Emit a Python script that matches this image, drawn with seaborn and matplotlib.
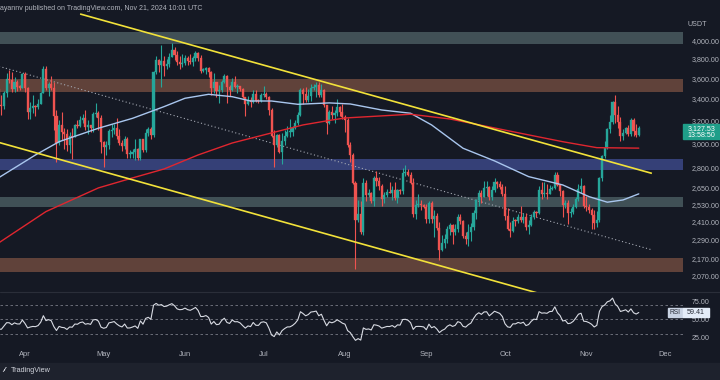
import numpy as np
import pandas as pd
import matplotlib
matplotlib.use("Agg")
import matplotlib.pyplot as plt
import matplotlib.dates as mdates
from matplotlib.ticker import NullLocator
from matplotlib.patches import Rectangle
from matplotlib.lines import Line2D
import seaborn as sns

# ---------------- data (ETH/USDT daily) ----------------
start_date = "2024-03-22"
# closes before the first visible candle (used as RSI warm-up and first open)
warmup_close = [3870, 3892, 3908, 3880, 4066, 3982, 4004, 3883, 3736, 3522,
                3645, 3518, 3159, 3516, 3491]

close_mar = [3336, 3331, 3454, 3590, 3585, 3490, 3560, 3510, 3508, 3648]
high_mar = [3540, 3440, 3470, 3650, 3680, 3665, 3610, 3580, 3530, 3650]
low_mar = [3250, 3250, 3300, 3420, 3550, 3460, 3460, 3470, 3480, 3500]

close_apr = [3503, 3279, 3311, 3330, 3319, 3352, 3454, 3696, 3505, 3545,
             3504, 3237, 3007, 3157, 3100, 3083, 2985, 3066, 3055, 3157,
             3148, 3201, 3219, 3139, 3155, 3130, 3253, 3263, 3217, 3014]
high_apr = [3660, 3510, 3370, 3440, 3345, 3400, 3460, 3730, 3725, 3560,
            3620, 3560, 3290, 3200, 3280, 3130, 3125, 3100, 3130, 3170,
            3200, 3240, 3260, 3295, 3200, 3160, 3280, 3355, 3285, 3250]
low_apr = [3460, 3210, 3210, 3270, 3240, 3300, 3350, 3450, 3480, 3430,
           3480, 3110, 2850, 2990, 3030, 2950, 2940, 2920, 2870, 3050,
           3130, 3140, 3180, 3110, 3080, 3100, 3100, 3230, 3110, 2920]

close_may = [2970, 2988, 3103, 3118, 3136, 3064, 3007, 2974, 3036, 2910,
             2912, 2930, 2950, 2882, 3037, 2945, 3092, 3123, 3071, 3660,
             3790, 3738, 3780, 3728, 3750, 3826, 3892, 3844, 3768, 3748, 3760]
high_may = [3020, 3020, 3125, 3170, 3170, 3220, 3125, 3030, 3060, 3050,
            2945, 2955, 3040, 2960, 3040, 3040, 3120, 3145, 3140, 3670,
            3830, 3800, 3950, 3830, 3800, 3860, 3975, 3930, 3890, 3830, 3850]
low_may = [2810, 2900, 2950, 3050, 3080, 3040, 2990, 2940, 2950, 2880,
           2880, 2880, 2860, 2860, 2860, 2930, 2930, 3060, 3040, 3050,
           3640, 3660, 3510, 3620, 3700, 3720, 3820, 3790, 3740, 3700, 3720]

close_jun = [3813, 3780, 3767, 3811, 3866, 3810, 3679, 3681, 3705, 3665,
             3500, 3560, 3470, 3480, 3565, 3620, 3510, 3483, 3563, 3517,
             3520, 3490, 3420, 3350, 3390, 3372, 3449, 3380, 3376, 3432]
high_jun = [3840, 3830, 3850, 3830, 3885, 3880, 3840, 3710, 3720, 3720,
            3670, 3650, 3560, 3530, 3580, 3640, 3630, 3530, 3600, 3625,
            3540, 3520, 3500, 3420, 3430, 3420, 3480, 3480, 3400, 3450]
low_jun = [3740, 3740, 3750, 3730, 3780, 3780, 3650, 3660, 3640, 3610,
           3440, 3450, 3420, 3360, 3460, 3550, 3360, 3430, 3470, 3500,
           3450, 3470, 3410, 3240, 3340, 3320, 3360, 3370, 3360, 3365]

close_jul = [3441, 3420, 3295, 3059, 2982, 3067, 2930, 3019, 3065, 3100,
             3101, 3130, 3176, 3249, 3486, 3443, 3389, 3426, 3505, 3517,
             3535, 3440, 3481, 3337, 3174, 3275, 3245, 3270, 3319, 3280, 3230]
high_jul = [3520, 3460, 3430, 3310, 3110, 3080, 3080, 3090, 3110, 3150,
            3210, 3150, 3200, 3280, 3500, 3500, 3515, 3490, 3540, 3540,
            3560, 3560, 3540, 3490, 3340, 3290, 3330, 3290, 3400, 3330, 3350]
low_jul = [3420, 3400, 3250, 3050, 2810, 2970, 2920, 2830, 2990, 3050,
           3050, 3060, 3120, 3160, 3240, 3350, 3370, 3370, 3380, 3480,
           3420, 3420, 3420, 3320, 3080, 3170, 3210, 3180, 3240, 3240, 3210]

close_aug = [3203, 2988, 2906, 2688, 2420, 2460, 2340, 2682, 2597, 2611,
             2556, 2722, 2703, 2664, 2569, 2593, 2616, 2612, 2636, 2575,
             2631, 2624, 2762, 2768, 2745, 2681, 2460, 2527, 2530, 2526, 2513]
high_aug = [3245, 3220, 3010, 2920, 2700, 2560, 2550, 2720, 2710, 2640,
            2620, 2740, 2780, 2730, 2680, 2620, 2640, 2690, 2660, 2690,
            2640, 2640, 2800, 2820, 2790, 2770, 2720, 2560, 2600, 2560, 2530]
low_aug = [3100, 2970, 2850, 2680, 2110, 2410, 2330, 2320, 2550, 2580,
           2540, 2520, 2660, 2630, 2520, 2540, 2580, 2610, 2560, 2560,
           2540, 2600, 2600, 2740, 2740, 2680, 2440, 2430, 2510, 2490, 2500]

close_sep = [2425, 2538, 2424, 2450, 2368, 2227, 2271, 2297, 2358, 2388,
             2341, 2361, 2438, 2416, 2316, 2293, 2339, 2370, 2465, 2560,
             2613, 2582, 2646, 2652, 2578, 2632, 2695, 2676, 2658, 2603]
high_sep = [2530, 2555, 2550, 2490, 2470, 2410, 2320, 2330, 2380, 2400,
            2390, 2390, 2460, 2460, 2420, 2340, 2390, 2400, 2490, 2570,
            2630, 2630, 2700, 2700, 2660, 2660, 2720, 2700, 2700, 2680]
low_sep = [2400, 2400, 2400, 2310, 2350, 2165, 2220, 2240, 2270, 2320,
           2260, 2320, 2340, 2390, 2300, 2260, 2250, 2280, 2350, 2430,
           2520, 2540, 2580, 2590, 2560, 2560, 2620, 2650, 2640, 2590]

close_oct = [2448, 2363, 2349, 2415, 2414, 2440, 2422, 2440, 2370, 2386,
             2438, 2476, 2468, 2630, 2605, 2611, 2605, 2641, 2645, 2748,
             2667, 2622, 2524, 2535, 2470, 2478, 2507, 2565, 2639, 2659, 2518]
high_oct = [2660, 2500, 2410, 2440, 2430, 2460, 2520, 2470, 2470, 2420,
            2460, 2490, 2480, 2660, 2690, 2690, 2680, 2670, 2660, 2770,
            2770, 2680, 2630, 2560, 2560, 2500, 2530, 2580, 2680, 2720, 2670]
low_oct = [2420, 2350, 2310, 2340, 2380, 2400, 2410, 2400, 2350, 2330,
           2380, 2430, 2440, 2460, 2570, 2580, 2570, 2600, 2630, 2640,
           2660, 2590, 2440, 2500, 2390, 2440, 2460, 2500, 2550, 2610, 2500]

close_nov = [2512, 2490, 2457, 2399, 2423, 2722, 2895, 2963, 3127, 3183,
             3370, 3245, 3185, 3060, 3092, 3132, 3077, 3206, 3107, 3073, 3127.53]
high_nov = [2590, 2530, 2500, 2490, 2480, 2730, 2900, 3020, 3130, 3250,
            3380, 3440, 3330, 3230, 3120, 3140, 3160, 3220, 3220, 3170, 3150]
low_nov = [2480, 2470, 2360, 2360, 2370, 2410, 2700, 2880, 2950, 3090,
           3170, 3180, 3130, 3020, 3030, 3080, 3060, 3060, 3060, 3050, 3060]

# moving averages (red = 200, light blue = 100)
red_ma_dates = ["2024-03-22", "2024-04-09", "2024-04-29", "2024-05-12", "2024-05-24",
                "2024-06-06", "2024-06-19", "2024-07-04", "2024-07-16", "2024-07-26",
                "2024-08-01", "2024-08-26", "2024-09-10", "2024-09-27", "2024-10-10",
                "2024-10-23", "2024-11-05", "2024-11-21"]
red_ma_values = [2270, 2478, 2648, 2723, 2792, 2904, 3003, 3089, 3159, 3199,
                 3221, 3255, 3212, 3132, 3072, 3014, 2964, 2960]
blue_ma_dates = ["2024-03-22", "2024-04-05", "2024-04-14", "2024-04-29", "2024-05-12",
                 "2024-05-24", "2024-06-01", "2024-06-10", "2024-06-19", "2024-06-26",
                 "2024-07-04", "2024-07-14", "2024-07-26", "2024-08-03", "2024-08-15",
                 "2024-08-26", "2024-09-03", "2024-09-15", "2024-09-27", "2024-10-10",
                 "2024-10-23", "2024-11-02", "2024-11-09", "2024-11-15", "2024-11-21"]
blue_ma_values = [2725, 2904, 3014, 3130, 3218, 3325, 3404, 3442, 3419, 3378,
                  3378, 3347, 3360, 3350, 3294, 3264, 3159, 2959, 2856, 2733,
                  2670, 2584, 2544, 2560, 2604]

# trend lines (descending channel) and horizontal zones
upper_line_dates = ["2024-04-22", "2024-11-26"]
upper_line_prices = [4311, 2758]
lower_line_dates = ["2024-03-22", "2024-10-14"]
lower_line_prices = [3008, 1970]
mid_line_dates = ["2024-03-22", "2024-11-26"]
mid_line_prices = [3723, 2226]
zones = [(3960, 4100, "#4a5a5f"), (3462, 3593, "#6e4a3e"), (2785, 2870, "#3b4786"),
         (2513, 2584, "#485a5f"), (2094, 2174, "#6e4a3e")]

price_ticks = [4000, 3800, 3600, 3400, 3200, 3000, 2800, 2650, 2530, 2410, 2290, 2170, 2070]
rsi_ticks = [75, 50, 25]
month_labels = ["Apr", "May", "Jun", "Jul", "Aug", "Sep", "Oct", "Nov", "Dec"]
month_starts = ["2024-04-01", "2024-05-01", "2024-06-01", "2024-07-01", "2024-08-01",
                "2024-09-01", "2024-10-01", "2024-11-01", "2024-12-01"]
last_price_text = ["3,127.53", "13:58:50"]
rsi_last_value = 59.41
header_text = "ayannv published on TradingView.com, Nov 21, 2024 10:01 UTC"

# ---------------- assemble ----------------
closes = np.array(close_mar + close_apr + close_may + close_jun + close_jul +
                  close_aug + close_sep + close_oct + close_nov, dtype=float)
highs = np.array(high_mar + high_apr + high_may + high_jun + high_jul +
                 high_aug + high_sep + high_oct + high_nov, dtype=float)
lows = np.array(low_mar + low_apr + low_may + low_jun + low_jul +
                low_aug + low_sep + low_oct + low_nov, dtype=float)
opens = np.concatenate([[warmup_close[-1]], closes[:-1]])
dates = pd.date_range(start_date, periods=len(closes), freq="D")
xd = mdates.date2num(dates)

# RSI(14), Wilder smoothing
allc = np.array(warmup_close + list(closes), dtype=float)
delta = np.diff(allc)
gain = np.clip(delta, 0, None)
loss = np.clip(-delta, 0, None)
ag, al = gain[:14].mean(), loss[:14].mean()
rsi = []
for g, l in zip(gain[14:], loss[14:]):
    ag = (ag * 13 + g) / 14
    al = (al * 13 + l) / 14
    rsi.append(100 - 100 / (1 + ag / al))
rsi = np.array(rsi)

# ---------------- style ----------------
sns.set_style("dark")
plt.rcParams["font.family"] = ["Liberation Sans", "DejaVu Sans"]
BG = "#151924"
TXT = "#b2b5be"
GREEN = "#26a69a"
RED = "#ef5350"
W, H = 720, 380
PANE_R = 683
FS = 5.1

fig = plt.figure(figsize=(W / 100, H / 100), dpi=100)
fig.patch.set_facecolor(BG)


def fbox(x0, y0, x1, y1):
    return [x0 / W, 1 - y1 / H, (x1 - x0) / W, (y1 - y0) / H]


ax = fig.add_axes(fbox(0, 0, PANE_R, 292))
rax = fig.add_axes(fbox(0, 292, PANE_R, 343))
for a in (ax, rax):
    a.set_facecolor(BG)
    for s in a.spines.values():
        s.set_visible(False)
    a.grid(False)

apr1 = mdates.date2num(pd.Timestamp("2024-04-01"))
px_day = 2.623
xlim = (apr1 + 122 - 345 / px_day, apr1 + 122 + (PANE_R - 345) / px_day)

# zones
for lo, hi, colr in zones:
    ax.axhspan(lo, hi, color=colr, alpha=0.85, lw=0, zorder=1)

# channel midline
ax.plot(mdates.date2num(pd.to_datetime(mid_line_dates)), mid_line_prices,
        color="#a4a8b2", lw=0.8, ls=(0, (1, 2.2)), zorder=2)

# candles
up = closes >= opens
cols = np.where(up, GREEN, RED)
ax.vlines(xd, lows, highs, colors=cols, lw=0.8, zorder=3)
body_lo = np.minimum(opens, closes)
body_h = np.maximum(np.abs(closes - opens), closes * 0.003)
ax.bar(xd, body_h, bottom=body_lo, width=0.8, color=cols, edgecolor=cols, lw=0.25,
       zorder=3)

# moving averages
sns.lineplot(x=mdates.date2num(pd.to_datetime(blue_ma_dates)), y=blue_ma_values, ax=ax,
             color="#a9c6ee", lw=1.0, zorder=4)
sns.lineplot(x=mdates.date2num(pd.to_datetime(red_ma_dates)), y=red_ma_values, ax=ax,
             color="#e0262f", lw=1.0, zorder=4)

ax.plot(mdates.date2num(pd.to_datetime(upper_line_dates)), upper_line_prices,
        color="#f2e23a", lw=1.2, zorder=5, solid_capstyle="butt")
ax.plot(mdates.date2num(pd.to_datetime(lower_line_dates)), lower_line_prices,
        color="#f2e23a", lw=1.2, zorder=5, solid_capstyle="butt")

ax.set_yscale("log")
ax.set_ylim(1978, 4483)
ax.set_xlim(*xlim)
ax.set_xlabel("")
ax.set_ylabel("")
ax.set_yticks(price_ticks)
ax.yaxis.set_minor_locator(NullLocator())
ax.set_yticklabels([f"{v:,.2f}" for v in price_ticks])
ax.tick_params(axis="y", which="both", left=False, right=False, labelleft=False,
               labelright=True, pad=3, labelsize=FS, labelcolor=TXT)
ax.tick_params(axis="x", which="both", bottom=False, labelbottom=False)

# RSI pane
for lvl in (70, 50, 30):
    rax.axhline(lvl, color="#787b86", lw=0.6, ls=(0, (3, 3)), zorder=1)
sns.lineplot(x=xd, y=rsi, ax=rax, color="#d8dbe3", lw=0.8, zorder=3)
rax.set_xlim(*xlim)
rax.set_ylim(17.0, 88.3)
rax.set_xlabel("")
rax.set_ylabel("")
rax.set_yticks(rsi_ticks)
rax.set_yticklabels([f"{v:.2f}" for v in rsi_ticks])
rax.tick_params(axis="y", left=False, right=False, labelleft=False, labelright=True,
                pad=3, labelsize=FS, labelcolor=TXT)
rax.set_xticks(mdates.date2num(pd.to_datetime(month_starts)))
rax.set_xticklabels(month_labels)
rax.tick_params(axis="x", bottom=False, labelbottom=True, pad=2.2, labelsize=5.4,
                labelcolor=TXT)

# separators and bottom band
fig.add_artist(Line2D([0, 1], [1 - 292 / H] * 2, color="#2a2e39", lw=0.8))
fig.add_artist(Rectangle((0, 0), 1, 17 / H, transform=fig.transFigure,
                         color="#1e222d", zorder=0))
fig.text(3 / W, 1 - 371 / H, "⁄⁄", fontsize=5.2, color="#d1d4dc", va="center", weight="bold")
fig.text(11 / W, 1 - 371 / H, "TradingView", fontsize=5.2, color="#d1d4dc", va="center")

# header
fig.text(0 / W, 1 - 8 / H, header_text, fontsize=5.0, color=TXT, va="center")
fig.text(688 / W, 1 - 24 / H, "USDT", fontsize=FS, color=TXT, va="center")

# last price label
fig.canvas.draw()
py = ax.transData.transform((xlim[0], closes[-1]))[1]
ptop = H - py  # pixel from top
fig.add_artist(Rectangle((PANE_R / W, 1 - (ptop + 11) / H), (W - PANE_R) / W, 15 / H,
                         transform=fig.transFigure, color="#1f9e89", zorder=10))
fig.text(688 / W, 1 - ptop / H, last_price_text[0], fontsize=FS, color="white",
         va="center", zorder=11)
fig.text(688 / W, 1 - (ptop + 7) / H, last_price_text[1], fontsize=FS, color="white",
         va="center", zorder=11)

# RSI label
ry = H - rax.transData.transform((xlim[0], rsi_last_value))[1]
fig.add_artist(Rectangle((668 / W, 1 - (ry + 4.3) / H), 15 / W, 8.6 / H,
                         transform=fig.transFigure, color="#c9d3e3", zorder=10))
fig.add_artist(Rectangle((683 / W, 1 - (ry + 4.3) / H), 26 / W, 8.6 / H,
                         transform=fig.transFigure, color="#e4ecf8", zorder=10))
fig.text(675.5 / W, 1 - ry / H, "RSI", fontsize=4.8, color="#2a2e39", va="center",
         ha="center", zorder=11)
fig.text(696 / W, 1 - ry / H, f"{rsi_last_value:.2f}", fontsize=FS, color="#2a2e39",
         va="center", ha="center", zorder=11)

fig.savefig("out.png", dpi=100, facecolor=BG)
